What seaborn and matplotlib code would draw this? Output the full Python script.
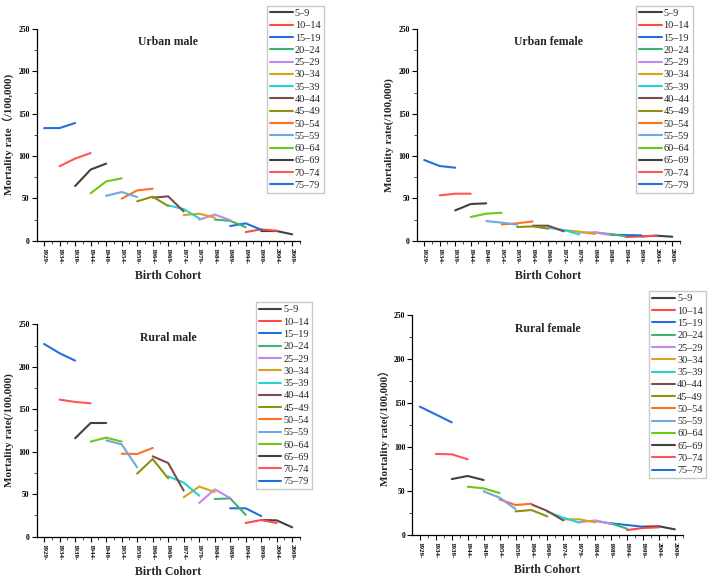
import numpy as np
import pandas as pd
import matplotlib
matplotlib.use("Agg")
import matplotlib.pyplot as plt
import seaborn as sns
from matplotlib.ticker import MultipleLocator

# ---------------- data ----------------
cohorts = ["1929-", "1934-", "1939-", "1944-", "1949-", "1954-", "1959-", "1964-",
           "1969-", "1974-", "1979-", "1984-", "1989-", "1994-", "1999-", "2004-", "2009-"]
ages = ["5\u20139", "10\u201314", "15\u201319", "20\u201324", "25\u201329", "30\u201334",
        "35\u201339", "40\u201344", "45\u201349", "50\u201354", "55\u201359", "60\u201364",
        "65\u201369", "70\u201374", "75\u201379"]

# each age group: rates for its three consecutive birth cohorts (period 1..3)
urban_male = [
    [11.4, 11.4, 7.5], [10.2, 13.4, 11.8], [17.3, 20.5, 13.0], [25.0, 23.5, 15.9],
    [24.8, 30.9, 24.4], [30.3, 31.9, 27.3], [41.7, 37.4, 26.4], [50.8, 52.4, 34.6],
    [46.5, 52.0, 41.0], [49.6, 59.4, 61.4], [53.0, 57.5, 51.6], [56.0, 70.0, 73.6],
    [64.5, 84.0, 91.0], [88.0, 97.0, 103.5], [133.0, 133.0, 139.0]]
urban_female = [
    [5.1, 5.9, 4.7], [4.3, 5.1, 5.9], [7.0, 6.7, 6.3], [9.8, 7.9, 5.1],
    [9.8, 9.8, 6.7], [12.6, 10.6, 7.9], [15.4, 12.6, 7.5], [17.7, 17.7, 11.0],
    [16.1, 16.9, 14.2], [19.3, 20.5, 22.8], [23.2, 21.3, 18.9], [28.0, 31.9, 33.0],
    [35.8, 43.3, 44.1], [53.5, 55.5, 55.5], [95.3, 88.2, 86.2]]
rural_male = [
    [19.6, 19.2, 11.0], [16.1, 19.6, 16.1], [33.4, 33.4, 24.3], [44.3, 45.1, 25.7],
    [39.6, 55.7, 45.5], [46.3, 58.9, 52.6], [71.0, 63.6, 48.3], [94.6, 86.7, 54.2],
    [74.2, 91.4, 68.7], [97.7, 97.3, 104.4], [113.4, 108.7, 81.6], [111.9, 116.6, 111.9],
    [115.8, 133.8, 133.8], [161.3, 158.6, 157.0], [226.8, 215.9, 207.2]]
rural_female = [
    [9.1, 9.6, 6.1], [5.3, 7.6, 8.4], [12.9, 11.0, 9.1], [15.6, 12.9, 6.8],
    [14.1, 16.3, 12.2], [17.5, 17.5, 14.1], [26.2, 19.4, 13.7], [34.6, 27.0, 16.3],
    [26.6, 28.1, 20.9], [40.3, 33.8, 35.3], [49.4, 42.2, 29.3], [54.7, 52.8, 47.5],
    [63.4, 66.9, 62.3], [92.0, 91.6, 85.9], [145.9, 137.0, 128.0]]

titles = ["Urban male", "Urban female", "Rural male", "Rural female"]
ylabels = ["Mortality rate\uff08/100,000)", "Mortality rate(/100,000)",
           "Mortality rate(/100,000)", "Mortality rate(/100,000\uff09"]

colors = ["#404040", "#FF4A4A", "#2270E0", "#3DB36E", "#C486F0", "#D9A21B",
          "#22D3D3", "#7E4B4B", "#8F8F10", "#FF7020", "#72A8DE", "#6CC814",
          "#404040", "#FF5555", "#2270E0"]
palette = dict(zip(ages, colors))

# ---------------- style ----------------
sns.set_style("ticks")
plt.rcParams["font.family"] = ["Liberation Serif", "Noto Sans CJK SC", "DejaVu Sans"]
plt.rcParams["font.weight"] = "bold"

fig = plt.figure(figsize=(7.12, 5.8), dpi=100)

axes_pos = [
    [0.0515, 0.585, 0.3698, 0.365],
    [0.5853, 0.585, 0.3698, 0.365],
    [0.0515, 0.0747, 0.3698, 0.3662],
    [0.579, 0.0781, 0.380, 0.3783],
]
legend_pos = [(0.375, 0.99), (0.893, 0.99), (0.359, 0.479), (0.912, 0.498)]
datasets = [urban_male, urban_female, rural_male, rural_female]

n_c = len(cohorts)
n_a = len(ages)

for i, data in enumerate(datasets):
    rows = []
    for a, vals in enumerate(data):
        start = (n_a - 1) - a  # oldest age group starts at earliest cohort
        for k, v in enumerate(vals):
            rows.append({"cohort": start + k, "rate": v, "age": ages[a]})
    df = pd.DataFrame(rows)

    ax = fig.add_axes(axes_pos[i])
    sns.lineplot(data=df, x="cohort", y="rate", hue="age", hue_order=ages,
                 palette=palette, estimator=None, errorbar=None,
                 linewidth=1.5, ax=ax)

    ax.set_xlim(-0.48, n_c - 0.5)
    ax.set_ylim(0, 250)
    ax.set_xticks(np.arange(n_c))
    ax.set_xticklabels(cohorts, rotation=270, fontsize=5, fontweight="bold")
    ax.xaxis.set_minor_locator(MultipleLocator(0.5))
    ax.yaxis.set_major_locator(MultipleLocator(50))
    ax.yaxis.set_minor_locator(MultipleLocator(25))
    for lab in ax.get_yticklabels():
        lab.set_fontsize(5.5)
        lab.set_fontweight("bold")
    ax.tick_params(which="major", direction="out", length=3.5, width=0.8, pad=1.5, colors="black")
    ax.tick_params(which="minor", direction="out", length=2, width=0.6)
    sns.despine(ax=ax)
    for s in ["left", "bottom"]:
        ax.spines[s].set_linewidth(0.9)
        ax.spines[s].set_color("black")

    ax.set_xlabel("Birth Cohort", fontsize=8.5, fontweight="bold", labelpad=4)
    ax.set_ylabel(ylabels[i], fontsize=8, fontweight="bold", labelpad=3)
    ax.text(0.5, 0.965, titles[i], transform=ax.transAxes, ha="center", va="top",
            fontsize=8.5, fontweight="bold")

    handles, labels = ax.get_legend_handles_labels()
    ax.legend(handles, labels, loc="upper left", bbox_to_anchor=legend_pos[i],
              bbox_transform=fig.transFigure, frameon=True,
              fancybox=False, edgecolor="#c8c8c8", framealpha=1,
              handlelength=2.2, handletextpad=0.2, labelspacing=0.3,
              borderpad=0.3, borderaxespad=0,
              prop={"family": ["Liberation Serif"], "size": 7.4, "weight": "normal"})

fig.savefig("out.png", dpi=100)
